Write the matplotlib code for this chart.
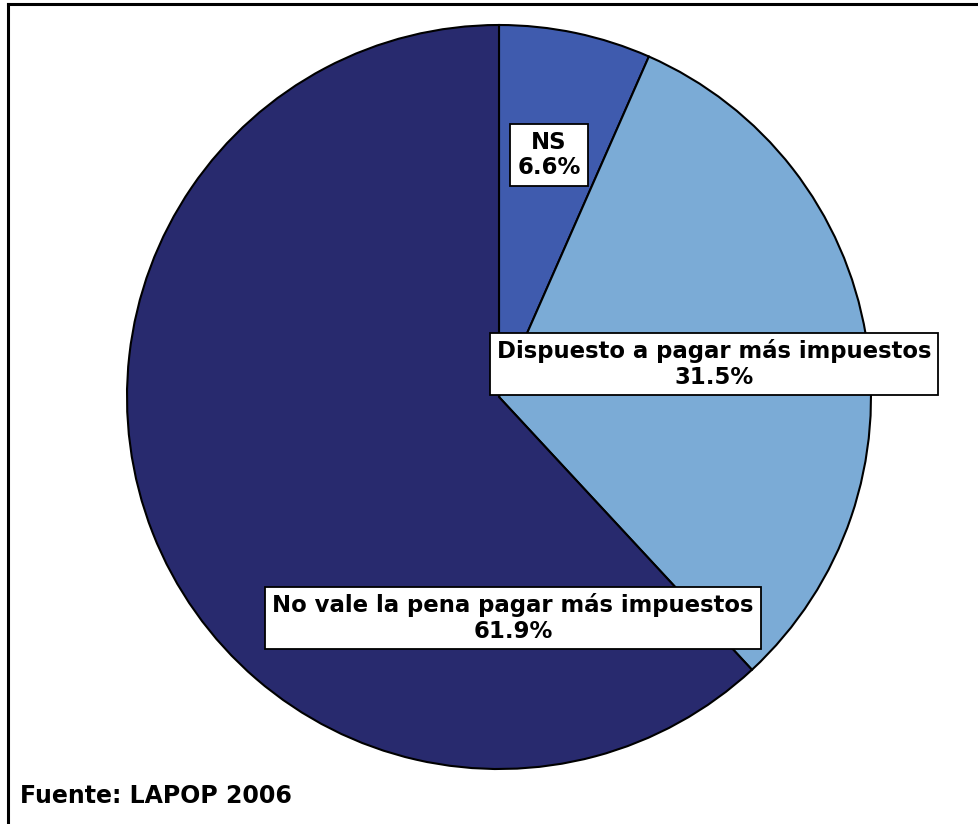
import matplotlib
matplotlib.use("Agg")
import matplotlib.pyplot as plt

# data
labels = ["NS", "Dispuesto a pagar más impuestos", "No vale la pena pagar más impuestos"]
values = [6.6, 31.5, 61.9]
colors = ["#3F5BAE", "#7BABD6", "#282A6E"]
source = "Fuente: LAPOP 2006"

W, H = 979, 824
fig = plt.figure(figsize=(W / 100, H / 100), dpi=100)
ax = fig.add_axes([0, 0, 1, 1])

# pie in pixel coordinates (y measured from the bottom)
cx, cy, r = 499, H - 397, 372
ax.pie(values, colors=colors, startangle=90, counterclock=False,
       center=(cx, cy), radius=r, frame=True,
       wedgeprops=dict(edgecolor="black", linewidth=1.5))
ax.set_xlim(0, W)
ax.set_ylim(0, H)
ax.set_aspect("equal")
ax.axis("off")

# label boxes
label_pos = [(549, H - 155), (714, H - 364), (513, H - 618)]
for lab, val, (x, y) in zip(labels, values, label_pos):
    ax.text(x, y, f"{lab}\n{val:.1f}%", ha="center", va="center",
            fontsize=16.4, fontweight="heavy", linespacing=1.12,
            bbox=dict(boxstyle="square,pad=0.3", facecolor="white",
                      edgecolor="black", linewidth=1.3))

# frame lines (top and left)
ax.plot([8.5, 8.5], [0, H - 4], color="black", linewidth=2.2, clip_on=False)
ax.plot([8.5, W], [H - 4, H - 4], color="black", linewidth=2.2, clip_on=False)

ax.text(20, H - 796, source, ha="left", va="center",
        fontsize=17, fontweight="heavy", color="black")

fig.savefig("out.png", dpi=100)
